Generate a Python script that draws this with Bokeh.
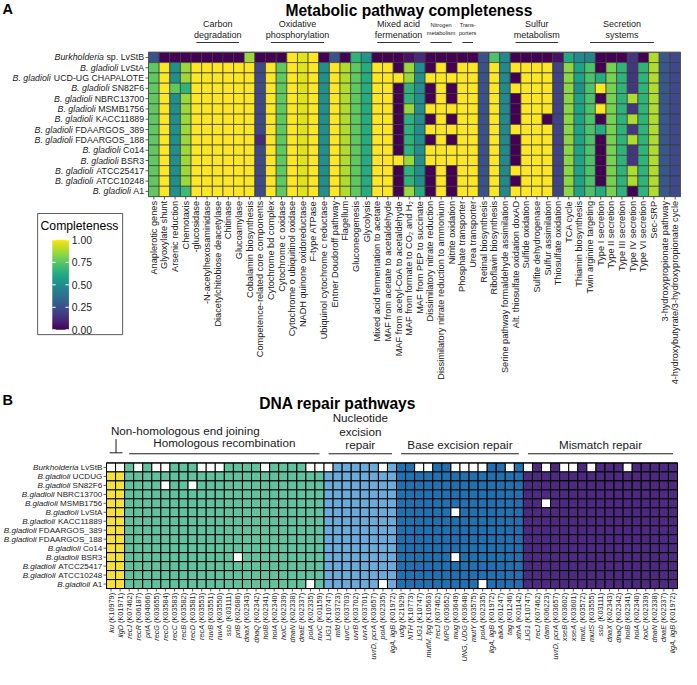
import math
import numpy as np
from bokeh.plotting import figure
from bokeh.models import ColumnDataSource, LinearColorMapper, Range1d
from bokeh.layouts import column
from bokeh.palettes import Viridis256
from bokeh.embed import file_html
from bokeh.resources import INLINE
from bokeh.core.properties import value

FONT = "Liberation Sans"

# ---------------- Panel A data ----------------
pathways = [
    "Anaplerotic genes", "Glyoxylate shunt", "Arsenic reduction", "Chemotaxis",
    "-glucosidase", "-N-acetylhexosaminidase", "Diacetylchitobiose deacetylase",
    "Chitinase", "Glucoamylase", "Cobalamin biosynthesis",
    "Competence-related core components", "Cytochrome bd complex",
    "Cytochrome c oxidase", "Cytochrome o ubiquitinol oxidase",
    "NADH quinone oxidoreductase", "F-type ATPase",
    "Ubiquinol cytochrome c reductase", "Entner Doudoroff pathway", "Flagellum",
    "Gluconeogenesis", "Glycolysis", "Mixed acid fermentation to acetate",
    "MAF from acetate to acetaldehyde", "MAF from acetyl-CoA to acetaldehyde",
    "MAF from formate to CO\u2082 and H\u2082", "MAF from PEP to succinate",
    "Dissimilatory nitrate reduction", "Dissimilatory nitrate reduction to ammonium",
    "Nitrite oxidation", "Phosphate transporter", "Urea transporter",
    "Retinal biosynthesis", "Riboflavin biosynthesis",
    "Serine pathway formaldehyde assimilation", "Alt. thiosulfate oxidation doxAD",
    "Sulfide oxidation", "Sulfite dehydrogenase", "Sulfur assimilation",
    "Thiosulfate oxidation", "TCA cycle", "Thiamin biosynthesis",
    "Twin arginine targeting", "Type I secretion", "Type II secretion",
    "Type III secretion", "Type IV secretion", "Type VI secretion", "Sec-SRP",
    "3-hydroxypropionate pathway", "4-hydroxybutyrate/3-hydroxypropionate cycle",
]

strains_a = [
    "Burkholderia sp. LvStB", "B. gladioli LvStA", "B. gladioli UCD-UG CHAPALOTE",
    "B. gladioli SN82F6", "B. gladioli NBRC13700", "B. gladioli MSMB1756",
    "B. gladioli KACC11889", "B. gladioli FDAARGOS_389", "B. gladioli FDAARGOS_188",
    "B. gladioli Co14", "B. gladioli BSR3", "B. gladioli ATCC25417",
    "B. gladioli ATCC10248", "B. gladioli A1",
]

completeness = [
    [0.25, 0, 0, 0, 0, 0, 0, 0, 0, 0.85, 0, 0, 0, 1, 0.95, 1, 0, 0.25, 0, 0.65,
     0.52, 0, 0, 0, 0.05, 0.12, 0, 0, 0, 0, 0, 0.25, 0.72, 0.47, 0, 0, 0, 0, 0.05, 0.6,
     0.48, 0.45, 0, 0, 0, 0.15, 0, 0.88, 0.27, 0.22],
    [0.75, 1, 0.5, 0.85, 1, 1, 1, 1, 1, 1, 0.22, 1, 0.75, 1, 0.95, 1, 0.5, 1, 0.88, 0.75,
     0.62, 1, 1, 0, 0.85, 0.5, 0, 1, 0, 1, 1, 0.25, 1, 0.47, 1, 1, 1, 1, 0.2, 0.83,
     0.58, 0.72, 0, 0.8, 0.65, 0.15, 0.65, 0.88, 0.27, 0.22],
    [0.75, 1, 0.5, 0.85, 1, 1, 1, 1, 1, 1, 0.22, 1, 0.75, 1, 0.95, 1, 0.5, 1, 0.88, 0.75,
     0.62, 1, 1, 1, 0.85, 0.5, 1, 1, 1, 1, 1, 0.25, 1, 0.47, 0, 1, 1, 1, 0.2, 0.83,
     0.58, 0.72, 0.62, 0.8, 0.65, 0.15, 0.65, 0.88, 0.27, 0.22],
    [0.75, 1, 0.75, 0.65, 1, 1, 1, 1, 1, 1, 0.22, 1, 0.75, 1, 0.95, 1, 0.5, 1, 0.88, 0.75,
     0.62, 1, 1, 0, 0.65, 0.5, 0, 1, 0, 1, 1, 0.25, 1, 0.47, 1, 1, 1, 1, 0.2, 0.83,
     0.5, 0.72, 1, 0.8, 0.65, 0.15, 0.65, 0.88, 0.27, 0.22],
    [0.75, 1, 0.5, 0.85, 1, 1, 1, 1, 1, 1, 0.22, 1, 0.75, 1, 0.95, 1, 0.5, 1, 0.88, 0.75,
     0.62, 1, 1, 0, 0.65, 0.5, 0, 1, 0, 1, 1, 0.25, 1, 0.47, 0, 1, 1, 1, 0.2, 0.83,
     0.58, 0.72, 0, 0.8, 0.65, 0.88, 0.65, 0.88, 0.27, 0.22],
    [0.75, 1, 0.5, 0.85, 1, 1, 1, 1, 1, 1, 0.22, 1, 0.75, 1, 0.95, 1, 0.5, 1, 0.88, 0.75,
     0.62, 1, 1, 0, 0.85, 0.5, 1, 1, 1, 1, 1, 0.25, 1, 0.47, 0, 1, 1, 1, 0.2, 0.83,
     0.58, 0.72, 1, 0.8, 0.65, 0.15, 0.65, 0.88, 0.27, 0.22],
    [0.75, 1, 0.5, 0.85, 1, 1, 1, 1, 1, 1, 0.22, 1, 0.75, 1, 0.95, 1, 0.5, 1, 0.88, 0.75,
     0.62, 1, 1, 0, 0.65, 0.5, 0, 1, 0, 1, 1, 0.25, 1, 0.47, 0, 1, 1, 0, 0.2, 0.83,
     0.58, 0.72, 0, 0.8, 0.65, 0.88, 0.65, 0.88, 0.27, 0.22],
    [0.75, 1, 0.5, 0.85, 1, 1, 1, 1, 1, 1, 0.22, 1, 0.75, 1, 0.95, 1, 0.5, 1, 0.88, 0.75,
     0.62, 1, 1, 0, 0.65, 0.5, 1, 1, 1, 1, 1, 0.25, 1, 0.47, 1, 1, 1, 1, 0.2, 0.83,
     0.58, 0.72, 0.62, 0.8, 0.65, 0.15, 0.65, 0.88, 0.27, 0.22],
    [0.75, 1, 0.5, 0.85, 1, 1, 1, 1, 1, 1, 0.12, 1, 0.75, 1, 0.95, 1, 0.5, 1, 0.88, 0.75,
     0.62, 1, 1, 0, 0.65, 0.5, 0, 1, 0, 1, 1, 0.25, 1, 0.47, 0, 1, 1, 1, 0.2, 0.83,
     0.58, 0.72, 0, 0.8, 0.65, 0.88, 0.65, 0.88, 0.27, 0.22],
    [0.75, 1, 0.5, 0.85, 1, 1, 1, 1, 1, 1, 0.22, 1, 0.75, 1, 0.95, 1, 0.5, 1, 0.88, 0.75,
     0.62, 1, 1, 0, 0.65, 0.5, 1, 1, 1, 1, 1, 0.25, 1, 0.47, 0, 1, 1, 1, 0.2, 0.83,
     0.58, 0.72, 0, 0.8, 0.65, 0.15, 0.65, 0.88, 0.27, 0.22],
    [0.75, 1, 0.5, 0.85, 1, 1, 1, 1, 1, 1, 0.22, 1, 0.75, 1, 0.95, 1, 0.5, 1, 0.88, 0.75,
     0.62, 1, 1, 1, 0.85, 0.5, 1, 1, 1, 1, 1, 0.25, 1, 0.47, 0, 1, 1, 1, 0.2, 0.83,
     0.58, 0.72, 0, 0.8, 0.65, 0.15, 0.65, 0.88, 0.27, 0.22],
    [0.75, 1, 0.5, 0.85, 1, 1, 1, 1, 1, 1, 0.22, 1, 0.75, 1, 0.95, 1, 0.5, 1, 0.88, 0.75,
     0.62, 1, 1, 0, 0.65, 0.5, 0, 1, 0, 1, 1, 0.25, 1, 0.47, 1, 1, 1, 1, 0.2, 0.83,
     0.58, 0.72, 0, 0.8, 0.65, 0.88, 0.65, 0.88, 0.27, 0.22],
    [0.75, 1, 0.5, 0.85, 1, 1, 1, 1, 1, 1, 0.22, 1, 0.75, 1, 0.95, 1, 0.5, 1, 0.88, 0.75,
     0.62, 1, 1, 0, 0.65, 0.5, 0, 1, 0, 1, 1, 0.25, 1, 0.47, 0, 1, 1, 1, 0.2, 0.83,
     0.58, 0.72, 0, 0.8, 0.65, 0.88, 0.65, 0.88, 0.27, 0.22],
    [0.75, 1, 0.5, 0.68, 1, 1, 1, 1, 1, 1, 0.22, 1, 0.75, 1, 0.95, 1, 0.5, 1, 0.88, 0.75,
     0.62, 1, 1, 0, 0.85, 0.62, 0, 1, 0, 1, 1, 0.25, 1, 0.47, 1, 1, 1, 1, 0.2, 0.83,
     0.58, 0.72, 0.62, 0.8, 0.65, 0, 0.65, 0.88, 0.27, 0.22],
]

metabolic_groups = [
    ("Carbon", "degradation", "-glucosidase", "Glucoamylase"),
    ("Oxidative", "phosphorylation", "Cytochrome bd complex", "Ubiquinol cytochrome c reductase"),
    ("Mixed acid", "fermenation", "Mixed acid fermentation to acetate", "MAF from PEP to succinate"),
    ("Nitrogen", "metabolism", "Dissimilatory nitrate reduction", "Nitrite oxidation"),
    ("Trans-", "porters", "Phosphate transporter", "Urea transporter"),
    ("Sulfur", "metabolism", "Alt. thiosulfate oxidation doxAD", "Thiosulfate oxidation"),
    ("Secretion", "systems", "Twin arginine targeting", "Sec-SRP"),
]
small_groups = ["Nitrogen", "Trans-"]
legend_ticks = [0.0, 0.25, 0.5, 0.75, 1.0]

# ---------------- Panel B data ----------------
strains_b = [
    "Burkholderia LvStB", "B.gladioli UCDUG", "B.gladioli SN82F6", "B.gladioli NBRC13700",
    "B.gladioli MSMB1756", "B.gladioli LvStA", "B.gladioli KACC11889",
    "B.gladioli FDAARGOS_389", "B.gladioli FDAARGOS_188", "B.gladioli Co14",
    "B.gladioli BSR3", "B.gladioli ATCC25417", "B.gladioli ATCC10248", "B.gladioli A1",
]
nhej_genes = ["ku (K10979)", "ligD (K01971)"]
hr_genes = ["recJ (K07462)", "recR (K06187)", "priA (K04066)", "recG (K03655)",
            "recO (K03584)", "recC (K03583)", "recB (K03582)", "recD (K03581)",
            "recA (K03553)", "ruvB (K03551)", "ruvA (K03550)", "ssb (K03111)",
            "priB (K02686)", "dnaX (K02343)", "dnaQ (K02342)", "holB (K02341)",
            "holA (K02340)", "holC (K02339)", "dnaN (K02338)", "dnaE (K02337)",
            "polA (K02335)", "ruvC (K01159)"]
ner_genes = ["LIG1 (K10747)", "mfd (K03723)", "uvrC (K03703)", "uvrB (K03702)",
             "uvrA (K03701)", "uvrD, pcrA (K03657)", "polA (K02335)", "ligA, ligB (K01972)"]
ber_genes = ["udg (K21929)", "NTH (K10773)", "LIG1 (K10747)", "mutM, fpg (K10563)",
             "recJ (K07462)", "MPG (K03652)", "mug (K03649)", "UNG, UDG (K03648)",
             "mutY (K03575)", "polA (K02335)", "ligA, ligB (K01972)", "alkA (K01247)",
             "tag (K01246)", "xthA (K01142)"]
mmr_genes = ["LIG1 (K10747)", "recJ (K07462)", "dam (K06223)", "uvrD, pcrA (K03657)",
             "xseB (K03602)", "xseA (K03601)", "mutL (K03572)", "mutS (K03555)",
             "ssb (K03111)", "dnaX (K02343)", "dnaQ (K02342)", "holB (K02341)",
             "holA (K02340)", "holC (K02339)", "dnaN (K02338)", "dnaE (K02337)",
             "ligA, ligB (K01972)"]
# absent genes: strain -> positions in the concatenated gene list
missing_genes = {
    "Burkholderia LvStB": [0, 1, 3, 5, 6, 10, 11, 12, 17, 22, 23, 24, 30, 34, 35, 38, 39,
                           40, 41, 44, 46, 48, 50, 51, 53, 57],
    "B.gladioli SN82F6": [6, 9],
    "B.gladioli MSMB1756": [48],
    "B.gladioli LvStA": [38],
    "B.gladioli BSR3": [14, 38],
    "B.gladioli A1": [22, 30, 41],
}
repair_groups = [
    ("Non-homologous end joining", nhej_genes, "#F6E03A"),
    ("Homologous recombination", hr_genes, "#62C29F"),
    ("Nucleotide excision repair", ner_genes, "#6CAAD9"),
    ("Base excision repair", ber_genes, "#2171B0"),
    ("Mismatch repair", mmr_genes, "#4D2A7F"),
]

# ---------------- text metrics (Arial / Liberation Sans advance widths) ----------------
_W = {" ": 278, "(": 333, ")": 333, ",": 278, ".": 278, "_": 556, "-": 333}
for ch, w in zip("ABCDEFGHIJKLMNOPQRSTUVWXYZ",
                 [667, 667, 722, 722, 667, 611, 778, 722, 278, 500, 667, 556, 833, 722,
                  778, 667, 778, 722, 667, 611, 722, 667, 944, 667, 667, 611]):
    _W[ch] = w
for ch, w in zip("abcdefghijklmnopqrstuvwxyz",
                 [556, 556, 500, 556, 556, 278, 556, 556, 222, 222, 500, 222, 833, 556,
                  556, 556, 556, 333, 500, 278, 556, 500, 722, 500, 500, 500]):
    _W[ch] = w
for ch in "0123456789":
    _W[ch] = 556


def text_w(s, size):
    return sum(_W.get(ch, 556) for ch in s) * size / 1000.0


def split_strain(s):
    for pre in ("Burkholderia", "B. gladioli", "B.gladioli"):
        if s.startswith(pre):
            return pre, s[len(pre):].strip()
    return "", s


def split_gene(s):
    i = s.index(" (")
    return s[:i], s[i + 1:]


# ---------------- geometry (reference pixels -> page pixels) ----------------
SX = 681 / 697
SY = 669 / 685

A_W, A_H = 681, 391
A_HL, A_HB = 148, 196            # heatmap left / bottom inside figure A (px)
n_a, m_a = len(pathways), len(strains_a)
uxA = (680 - A_HL) / n_a
uyA = (A_HB - SY * 53) / m_a


def ax(X):
    return (SX * X - A_HL) / uxA - 0.5


def ay(Y):
    return (A_HB - SY * Y) / uyA - 0.5


B_W, B_H = 681, 278
B_OFF = A_H
B_HL, B_HB = 106, 197            # heatmap left / bottom inside figure B (px)
genes_b = [g for _, genes, _ in repair_groups for g in genes]
n_b, m_b = len(genes_b), len(strains_b)
uxB = (677 - B_HL) / n_b
uyB = (B_HB - (SY * 473.4 - B_OFF)) / m_b


def bx(X):
    return (SX * X - B_HL) / uxB - 0.5


def by(Y):
    return (B_HB - (SY * Y - B_OFF)) / uyB - 0.5


def base_fig(w, h, xr, yr):
    p = figure(width=w, height=h, x_range=Range1d(*xr), y_range=Range1d(*yr),
               x_axis_location=None, y_axis_location=None, output_backend="svg",
               toolbar_location=None, min_border=0)
    p.grid.visible = False
    p.outline_line_color = None
    p.background_fill_color = "white"
    p.border_fill_color = "white"
    return p


def txt(p, x, y, t, size, align="center", baseline="middle", style="normal",
        color="#1a1a1a", angle=0.0):
    p.text(x=x, y=y, text=t, text_font=value(FONT), text_font_size=value(size),
           text_align=align, text_baseline=baseline, text_font_style=style,
           text_color=color, angle=angle)


LABEL_C = "#222222"
TICK_C = "#333333"

# ---------------- Panel A ----------------
mapper = LinearColorMapper(palette=Viridis256, low=0, high=1)
xs, ys, vs = [], [], []
for r, row in enumerate(completeness):
    for c, v in enumerate(row):
        xs.append(c)
        ys.append(m_a - 1 - r)
        vs.append(v)
src_a = ColumnDataSource(dict(x=xs, y=ys, v=vs))

pa = base_fig(A_W, A_H, (ax(0), ax(697)), (ay(400.2), ay(0)))
pa.rect(x="x", y="y", width=1, height=1, source=src_a,
        fill_color={"field": "v", "transform": mapper},
        line_color="#3a3a3a", line_width=0.7)
pa.rect(x=[(n_a - 1) / 2], y=[(m_a - 1) / 2], width=n_a, height=m_a,
        fill_color=None, line_color="#555555", line_width=1)

# x ticks and labels
tick_len_a = 3 * SY / uyA
pa.segment(x0=list(range(n_a)), x1=list(range(n_a)), y0=[-0.5] * n_a,
           y1=[-0.5 - tick_len_a] * n_a, line_color=TICK_C, line_width=0.8)
txt(pa, list(range(n_a)), [-0.5 - 4.5 * SY / uyA] * n_a, pathways, "9.2px",
    align="right", color=LABEL_C, angle=math.pi / 2)
# y ticks and labels (italic species + plain strain)
rows_y = [m_a - 1 - i for i in range(m_a)]
pa.segment(x0=[-0.5] * m_a, x1=[-0.5 - 3 * SX / uxA] * m_a, y0=rows_y, y1=rows_y,
           line_color=TICK_C, line_width=0.8)
ROW_FS_A = 8.8
x_end = -0.5 - 4.5 * SX / uxA
it_x, it_t, pl_t = [], [], []
for s in strains_a:
    it, pl = split_strain(s)
    it_t.append(it)
    pl_t.append(pl)
    it_x.append(x_end - (text_w(pl, ROW_FS_A) + text_w(" ", ROW_FS_A)) / uxA)
txt(pa, [x_end] * m_a, rows_y, pl_t, f"{ROW_FS_A}px", align="right", color=LABEL_C)
txt(pa, it_x, rows_y, it_t, f"{ROW_FS_A}px", align="right", color=LABEL_C, style="italic")

# group headers
hx, ht1, ht2, sxg, st1, st2, seg_x0, seg_x1 = [], [], [], [], [], [], [], []
for t1, t2, first, last in metabolic_groups:
    i0, i1 = pathways.index(first), pathways.index(last)
    seg_x0.append(i0)
    seg_x1.append(i1)
    cx = (i0 + i1) / 2
    if t1 in small_groups:
        sxg.append(cx); st1.append(t1); st2.append(t2)
    else:
        hx.append(cx); ht1.append(t1); ht2.append(t2)
pa.segment(x0=seg_x0, x1=seg_x1, y0=[ay(43)] * len(seg_x0), y1=[ay(43)] * len(seg_x0),
           line_color="#1a1a1a", line_width=0.9)
txt(pa, hx + hx, [ay(24)] * len(hx) + [ay(35)] * len(hx), ht1 + ht2, "9px")
txt(pa, sxg + sxg, [ay(25.5)] * len(sxg) + [ay(33)] * len(sxg), st1 + st2, "5.6px")
txt(pa, [ax(418)], [ay(10)], ["Metabolic pathway completeness"], "15.6px",
    style="bold", color="black")
txt(pa, [ax(2)], [ay(8.5)], ["A"], "14.5px", align="left", style="bold", color="black")

# legend (colour bar)
pa.quad(left=[ax(38)], right=[ax(125)], top=[ay(218)], bottom=[ay(342)],
        fill_color="white", line_color="#333333", line_width=0.8)
txt(pa, [ax(41)], [ay(231)], ["Completeness"], "12.2px", align="left", color="black")
grad = np.linspace(0, 1, 256).reshape(256, 1)
pa.image(image=[grad], x=ax(53), y=ay(337), dw=ax(70) - ax(53), dh=ay(245) - ay(337),
         color_mapper=mapper)
lt_y = [ay(337) + t * (ay(245) - ay(337)) for t in legend_ticks]
nlt = len(legend_ticks)
pa.segment(x0=[ax(53)] * nlt + [ax(66.5)] * nlt, x1=[ax(56.5)] * nlt + [ax(70)] * nlt,
           y0=lt_y + lt_y, y1=lt_y + lt_y, line_color="white", line_width=1)
txt(pa, [ax(73)] * nlt, lt_y, [f"{t:.2f}" for t in legend_ticks], "10.3px",
    align="left", color="#222222")

# ---------------- Panel B ----------------
bxs, bys, bcol = [], [], []
col_color = [color for _, genes, color in repair_groups for _ in genes]
for r, strain in enumerate(strains_b):
    absent = missing_genes.get(strain, [])
    for c in range(n_b):
        bxs.append(c)
        bys.append(m_b - 1 - r)
        bcol.append("white" if c in absent else col_color[c])
src_b = ColumnDataSource(dict(x=bxs, y=bys, color=bcol))

pb = base_fig(B_W, B_H, (bx(0), bx(697)), (by(685), by(400.2)))
pb.rect(x="x", y="y", width=1, height=1, source=src_b, fill_color="color",
        line_color="black", line_width=1)
pb.rect(x=[(n_b - 1) / 2], y=[(m_b - 1) / 2], width=n_b, height=m_b,
        fill_color=None, line_color="black", line_width=1)

# x ticks + gene labels (italic gene + plain KO)
pb.segment(x0=list(range(n_b)), x1=list(range(n_b)), y0=[-0.5] * n_b,
           y1=[-0.5 - 3 * SY / uyB] * n_b, line_color=TICK_C, line_width=0.8)
GENE_FS = 7.3
y_top = -0.5 - 4.5 * SY / uyB
g_it, g_pl, g_it_y = [], [], []
for g in genes_b:
    it, pl = split_gene(g)
    g_it.append(it)
    g_pl.append(pl)
    g_it_y.append(y_top - (text_w(pl, GENE_FS) + text_w(" ", GENE_FS)) / uyB)
txt(pb, list(range(n_b)), [y_top] * n_b, g_pl, f"{GENE_FS}px", align="right",
    color=LABEL_C, angle=math.pi / 2)
txt(pb, list(range(n_b)), g_it_y, g_it, f"{GENE_FS}px", align="right",
    color=LABEL_C, angle=math.pi / 2, style="italic")

# y ticks + strain labels
rows_yb = [m_b - 1 - i for i in range(m_b)]
pb.segment(x0=[-0.5] * m_b, x1=[-0.5 - 3 * SX / uxB] * m_b, y0=rows_yb, y1=rows_yb,
           line_color=TICK_C, line_width=0.8)
ROW_FS_B = 8.1
xb_end = -0.5 - 4.3 * SX / uxB
b_it, b_pl, b_it_x = [], [], []
for s in strains_b:
    it, pl = split_strain(s)
    b_it.append(it)
    b_pl.append(pl)
    b_it_x.append(xb_end - (text_w(pl, ROW_FS_B) + text_w(" ", ROW_FS_B)) / uxB)
txt(pb, [xb_end] * m_b, rows_yb, b_pl, f"{ROW_FS_B}px", align="right", color=LABEL_C)
txt(pb, b_it_x, rows_yb, b_it, f"{ROW_FS_B}px", align="right", color=LABEL_C,
    style="italic")

# group headers
spans = []
k = 0
for _, genes, _ in repair_groups:
    spans.append((k, k + len(genes) - 1))
    k += len(genes)
rule_x0 = [s[0] for s in spans[1:]]
rule_x1 = [s[1] for s in spans[1:]]
pb.segment(x0=rule_x0, x1=rule_x1, y0=[by(464)] * len(rule_x0), y1=[by(464)] * len(rule_x0),
           line_color="#1a1a1a", line_width=1)
n0, n1 = spans[0]
nc = (n0 + n1) / 2 + 0.05
pb.segment(x0=[n0 - 0.15, nc], x1=[n1 + 0.25, nc], y0=[by(463), by(463)],
           y1=[by(463), by(449)], line_color="#1a1a1a", line_width=1)

HDR = "11.7px"
txt(pb, [bx(113)], [by(440)], [repair_groups[0][0]], HDR, align="left")
h_x = [(spans[i][0] + spans[i][1]) / 2 for i in (1, 3, 4)]
txt(pb, h_x, [by(452), by(455), by(455)],
    [repair_groups[1][0], repair_groups[3][0], repair_groups[4][0]], HDR)
ner_c = (spans[2][0] + spans[2][1]) / 2
txt(pb, [ner_c] * 3, [by(427), by(441), by(455)], repair_groups[2][0].split(" "), HDR)
txt(pb, [bx(345)], [by(412)], ["DNA repair pathways"], "15.6px", style="bold",
    color="black")
txt(pb, [bx(2)], [by(408.5)], ["B"], "14.5px", align="left", style="bold", color="black")

layout = column(pa, pb, spacing=0)
open("out.html", "w").write(file_html(layout, INLINE))
